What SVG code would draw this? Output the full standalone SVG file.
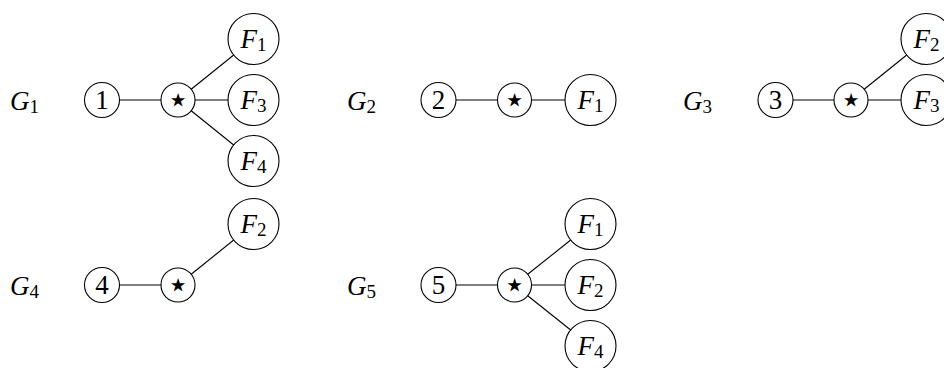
<svg xmlns="http://www.w3.org/2000/svg" width="944" height="368" viewBox="0 0 944 368">
<style>
  .bg{fill:#fff}
  circle{fill:#fff;stroke:#000;stroke-width:1.1}
  .e line{stroke:#000;stroke-width:1.1}
  text{font-family:"Liberation Serif","DejaVu Serif",serif;font-size:27px;fill:#000}
  .c{text-anchor:middle}
  .i{font-style:italic}
  .s{font-size:19px;font-style:normal}
  .st{font-family:"DejaVu Sans",sans-serif;font-size:37px;text-anchor:middle}
</style>
<rect class="bg" width="944" height="368"/>
<g id="edges" class="e">
  <line x1="119.5" y1="100" x2="161" y2="100"/>
  <line x1="191.2" y1="89.3" x2="233.7" y2="55"/>
  <line x1="195" y1="100" x2="228" y2="100"/>
  <line x1="191.2" y1="110.7" x2="233.7" y2="145"/>
  <line x1="456" y1="100" x2="497.5" y2="100"/>
  <line x1="531.5" y1="100" x2="565" y2="100"/>
  <line x1="793" y1="100" x2="834" y2="100"/>
  <line x1="864.2" y1="89.3" x2="906.7" y2="55"/>
  <line x1="868" y1="100" x2="901" y2="100"/>
  <line x1="119.5" y1="285" x2="161" y2="285"/>
  <line x1="191.2" y1="274.3" x2="233.7" y2="240"/>
  <line x1="456" y1="285" x2="497.5" y2="285"/>
  <line x1="527.7" y1="274.3" x2="570.7" y2="240"/>
  <line x1="531.5" y1="285" x2="565" y2="285"/>
  <line x1="527.7" y1="295.7" x2="570.7" y2="330"/>
</g>
<g id="label-G1"><text x="10" y="109.5"><tspan class="i">G</tspan><tspan class="s" dy="3.5">1</tspan></text></g>
<g id="label-G2"><text x="347" y="109.5"><tspan class="i">G</tspan><tspan class="s" dy="3.5">2</tspan></text></g>
<g id="label-G3"><text x="683" y="109.5"><tspan class="i">G</tspan><tspan class="s" dy="3.5">3</tspan></text></g>
<g id="label-G4"><text x="10" y="294.5"><tspan class="i">G</tspan><tspan class="s" dy="3.5">4</tspan></text></g>
<g id="label-G5"><text x="347" y="294.5"><tspan class="i">G</tspan><tspan class="s" dy="3.5">5</tspan></text></g>

<g id="g1-n1"><circle cx="102" cy="100" r="17.5"/><text class="c" x="102" y="109">1</text></g>
<g id="g1-star"><circle cx="178" cy="100" r="17"/><text class="st" x="178" y="112">⋆</text></g>
<g id="g1-F1"><circle cx="253.5" cy="39" r="25.5"/><text class="c" x="253.5" y="47.5"><tspan class="i">F</tspan><tspan class="s" dy="3.5">1</tspan></text></g>
<g id="g1-F3"><circle cx="253.5" cy="100" r="25.5"/><text class="c" x="253.5" y="108.5"><tspan class="i">F</tspan><tspan class="s" dy="3.5">3</tspan></text></g>
<g id="g1-F4"><circle cx="253.5" cy="161" r="25.5"/><text class="c" x="253.5" y="169.5"><tspan class="i">F</tspan><tspan class="s" dy="3.5">4</tspan></text></g>

<g id="g2-n2"><circle cx="438.5" cy="100" r="17.5"/><text class="c" x="438.5" y="109">2</text></g>
<g id="g2-star"><circle cx="514.5" cy="100" r="17"/><text class="st" x="514.5" y="112">⋆</text></g>
<g id="g2-F1"><circle cx="590.5" cy="100" r="25.5"/><text class="c" x="590.5" y="108.5"><tspan class="i">F</tspan><tspan class="s" dy="3.5">1</tspan></text></g>

<g id="g3-n3"><circle cx="775.5" cy="100" r="17.5"/><text class="c" x="775.5" y="109">3</text></g>
<g id="g3-star"><circle cx="851" cy="100" r="17"/><text class="st" x="851" y="112">⋆</text></g>
<g id="g3-F2"><circle cx="926.5" cy="39" r="25.5"/><text class="c" x="926.5" y="47.5"><tspan class="i">F</tspan><tspan class="s" dy="3.5">2</tspan></text></g>
<g id="g3-F3"><circle cx="926.5" cy="100" r="25.5"/><text class="c" x="926.5" y="108.5"><tspan class="i">F</tspan><tspan class="s" dy="3.5">3</tspan></text></g>

<g id="g4-n4"><circle cx="102" cy="285" r="17.5"/><text class="c" x="102" y="294">4</text></g>
<g id="g4-star"><circle cx="178" cy="285" r="17"/><text class="st" x="178" y="297">⋆</text></g>
<g id="g4-F2"><circle cx="253.5" cy="224" r="25.5"/><text class="c" x="253.5" y="232.5"><tspan class="i">F</tspan><tspan class="s" dy="3.5">2</tspan></text></g>

<g id="g5-n5"><circle cx="438.5" cy="285" r="17.5"/><text class="c" x="438.5" y="294">5</text></g>
<g id="g5-star"><circle cx="514.5" cy="285" r="17"/><text class="st" x="514.5" y="297">⋆</text></g>
<g id="g5-F1"><circle cx="590.5" cy="224" r="25.5"/><text class="c" x="590.5" y="232.5"><tspan class="i">F</tspan><tspan class="s" dy="3.5">1</tspan></text></g>
<g id="g5-F2"><circle cx="590.5" cy="285" r="25.5"/><text class="c" x="590.5" y="293.5"><tspan class="i">F</tspan><tspan class="s" dy="3.5">2</tspan></text></g>
<g id="g5-F4"><circle cx="590.5" cy="346" r="25.5"/><text class="c" x="590.5" y="354.5"><tspan class="i">F</tspan><tspan class="s" dy="3.5">4</tspan></text></g>
</svg>
